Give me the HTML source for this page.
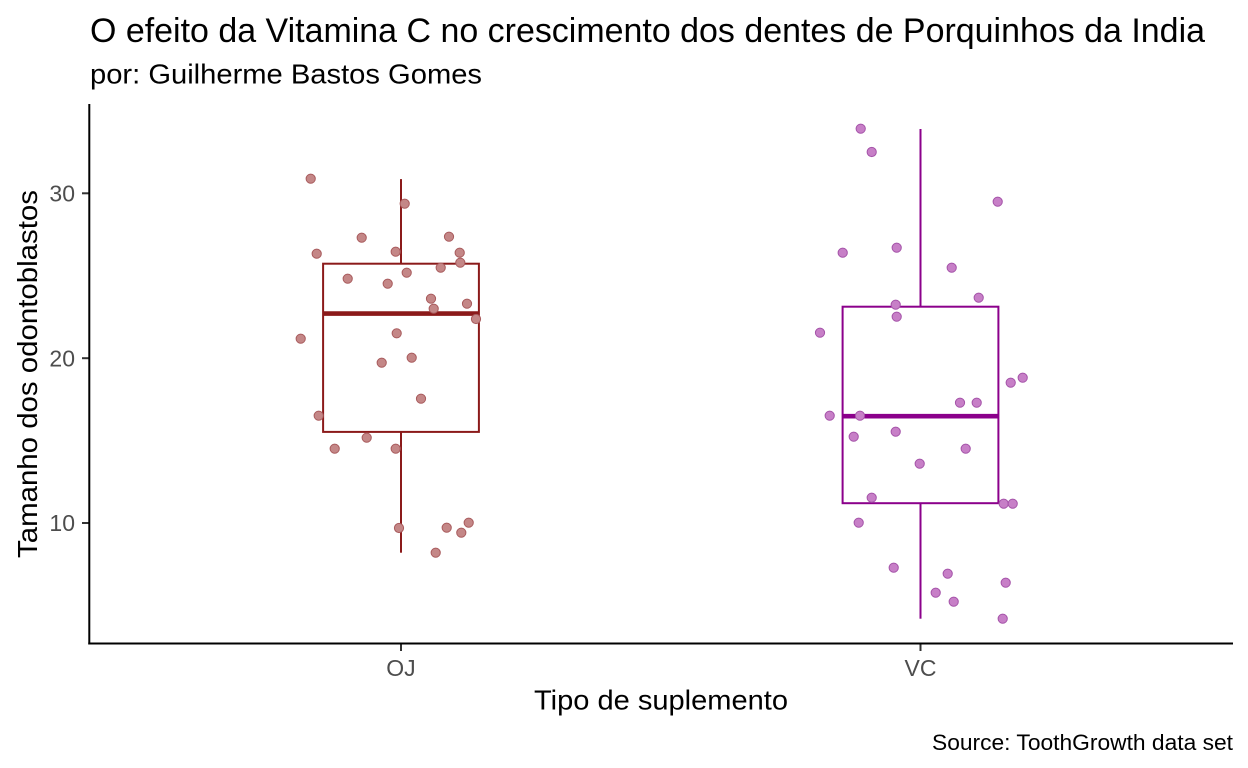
<!DOCTYPE html>
<html>
<head>
<meta charset="utf-8">
<style>
html,body{margin:0;padding:0;background:#fff;}
svg{display:block;}
text{font-family:"Liberation Sans",Arial,sans-serif;}
</style>
</head>
<body>
<svg width="1248" height="768" viewBox="0 0 1248 768" xmlns="http://www.w3.org/2000/svg">
<rect width="1248" height="768" fill="#fff"/>
<!-- Titles -->
<text x="90" y="42" font-size="34" fill="#000" textLength="1115" lengthAdjust="spacingAndGlyphs">O efeito da Vitamina C no crescimento dos dentes de Porquinhos da India</text>
<text x="90" y="83.5" font-size="28" fill="#000" textLength="392" lengthAdjust="spacingAndGlyphs">por: Guilherme Bastos Gomes</text>

<!-- Y axis title -->
<text transform="translate(37,374) rotate(-90)" text-anchor="middle" font-size="28" fill="#000" textLength="368" lengthAdjust="spacingAndGlyphs">Tamanho dos odontoblastos</text>

<!-- Y ticks & labels -->
<g stroke="#333" stroke-width="2">
<line x1="82" y1="193.3" x2="89" y2="193.3"/>
<line x1="82" y1="358.2" x2="89" y2="358.2"/>
<line x1="82" y1="523.0" x2="89" y2="523.0"/>
<line x1="401" y1="643.5" x2="401" y2="651"/>
<line x1="920.5" y1="643.5" x2="920.5" y2="651"/>
</g>
<g font-size="23" fill="#4d4d4d" text-anchor="end">
<text x="75" y="201.5">30</text>
<text x="75" y="366.4">20</text>
<text x="75" y="531.2">10</text>
</g>
<g font-size="23" fill="#4d4d4d" text-anchor="middle">
<text x="401" y="676">OJ</text>
<text x="920.5" y="676">VC</text>
</g>
<text x="661" y="709.3" font-size="28" fill="#000" text-anchor="middle" textLength="254" lengthAdjust="spacingAndGlyphs">Tipo de suplemento</text>
<text x="1233" y="750" font-size="22.6" fill="#000" text-anchor="end" textLength="301" lengthAdjust="spacingAndGlyphs">Source: ToothGrowth data set</text>

<!-- Axis lines -->
<line x1="89.3" y1="104" x2="89.3" y2="644.5" stroke="#000" stroke-width="2"/>
<line x1="88.3" y1="643.5" x2="1233" y2="643.5" stroke="#000" stroke-width="2"/>

<!-- OJ boxplot -->
<g stroke="#8B1A1A" stroke-width="2" fill="none">
<line x1="401" y1="179.1" x2="401" y2="263.7"/>
<line x1="401" y1="431.9" x2="401" y2="552.7"/>
<rect x="323.1" y="263.7" width="155.8" height="168.2"/>
<line x1="323.1" y1="313.6" x2="478.9" y2="313.6" stroke-width="4.6"/>
</g>
<!-- VC boxplot -->
<g stroke="#8B008B" stroke-width="2" fill="none">
<line x1="920.5" y1="129" x2="920.5" y2="306.7"/>
<line x1="920.5" y1="503.2" x2="920.5" y2="618.7"/>
<rect x="842.6" y="306.7" width="155.8" height="196.5"/>
<line x1="842.6" y1="416.2" x2="998.4" y2="416.2" stroke-width="4.6"/>
</g>

<!-- OJ points -->
<g fill="#c48787" stroke="#a85a5c" stroke-width="1">
<circle cx="310.7" cy="178.7" r="4.6"/>
<circle cx="404.7" cy="203.7" r="4.6"/>
<circle cx="361.7" cy="237.7" r="4.6"/>
<circle cx="449" cy="236.7" r="4.6"/>
<circle cx="316.7" cy="253.7" r="4.6"/>
<circle cx="395.7" cy="251.7" r="4.6"/>
<circle cx="459.7" cy="252.7" r="4.6"/>
<circle cx="460.3" cy="262.7" r="4.6"/>
<circle cx="440.7" cy="267.7" r="4.6"/>
<circle cx="406.7" cy="272.7" r="4.6"/>
<circle cx="347.7" cy="278.7" r="4.6"/>
<circle cx="387.7" cy="283.7" r="4.6"/>
<circle cx="431" cy="298.7" r="4.6"/>
<circle cx="433.7" cy="308.7" r="4.6"/>
<circle cx="467" cy="303.7" r="4.6"/>
<circle cx="476" cy="319" r="4.6"/>
<circle cx="396.7" cy="333.3" r="4.6"/>
<circle cx="300.7" cy="338.7" r="4.6"/>
<circle cx="381.7" cy="362.7" r="4.6"/>
<circle cx="411.7" cy="357.7" r="4.6"/>
<circle cx="421" cy="398.7" r="4.6"/>
<circle cx="318.7" cy="415.7" r="4.6"/>
<circle cx="366.7" cy="437.7" r="4.6"/>
<circle cx="334.7" cy="448.7" r="4.6"/>
<circle cx="395.7" cy="448.7" r="4.6"/>
<circle cx="399" cy="528" r="4.6"/>
<circle cx="446.7" cy="527.7" r="4.6"/>
<circle cx="468.7" cy="522.7" r="4.6"/>
<circle cx="461.3" cy="532.7" r="4.6"/>
<circle cx="435.7" cy="552.7" r="4.6"/>
</g>

<!-- VC points -->
<g fill="#c77fc7" stroke="#a452a8" stroke-width="1">
<circle cx="860.7" cy="128.7" r="4.6"/>
<circle cx="871.7" cy="152" r="4.6"/>
<circle cx="997.7" cy="201.7" r="4.6"/>
<circle cx="842.7" cy="252.7" r="4.6"/>
<circle cx="896.7" cy="247.7" r="4.6"/>
<circle cx="951.7" cy="267.7" r="4.6"/>
<circle cx="978.7" cy="297.7" r="4.6"/>
<circle cx="895.7" cy="304.7" r="4.6"/>
<circle cx="896.7" cy="316.7" r="4.6"/>
<circle cx="820" cy="332.7" r="4.6"/>
<circle cx="1010.7" cy="382.7" r="4.6"/>
<circle cx="1022.7" cy="377.7" r="4.6"/>
<circle cx="960" cy="402.7" r="4.6"/>
<circle cx="976.7" cy="402.7" r="4.6"/>
<circle cx="829.7" cy="415.7" r="4.6"/>
<circle cx="860" cy="415.7" r="4.6"/>
<circle cx="853.7" cy="436.7" r="4.6"/>
<circle cx="895.7" cy="431.7" r="4.6"/>
<circle cx="965.7" cy="448.7" r="4.6"/>
<circle cx="919.7" cy="463.7" r="4.6"/>
<circle cx="871.7" cy="497.7" r="4.6"/>
<circle cx="1003.7" cy="503.7" r="4.6"/>
<circle cx="1012.7" cy="503.7" r="4.6"/>
<circle cx="858.7" cy="522.7" r="4.6"/>
<circle cx="893.7" cy="567.7" r="4.6"/>
<circle cx="947.7" cy="573.7" r="4.6"/>
<circle cx="935.7" cy="592.7" r="4.6"/>
<circle cx="953.7" cy="601.7" r="4.6"/>
<circle cx="1005.7" cy="582.7" r="4.6"/>
<circle cx="1002.7" cy="618.7" r="4.6"/>
</g>
</svg>
</body>
</html>
